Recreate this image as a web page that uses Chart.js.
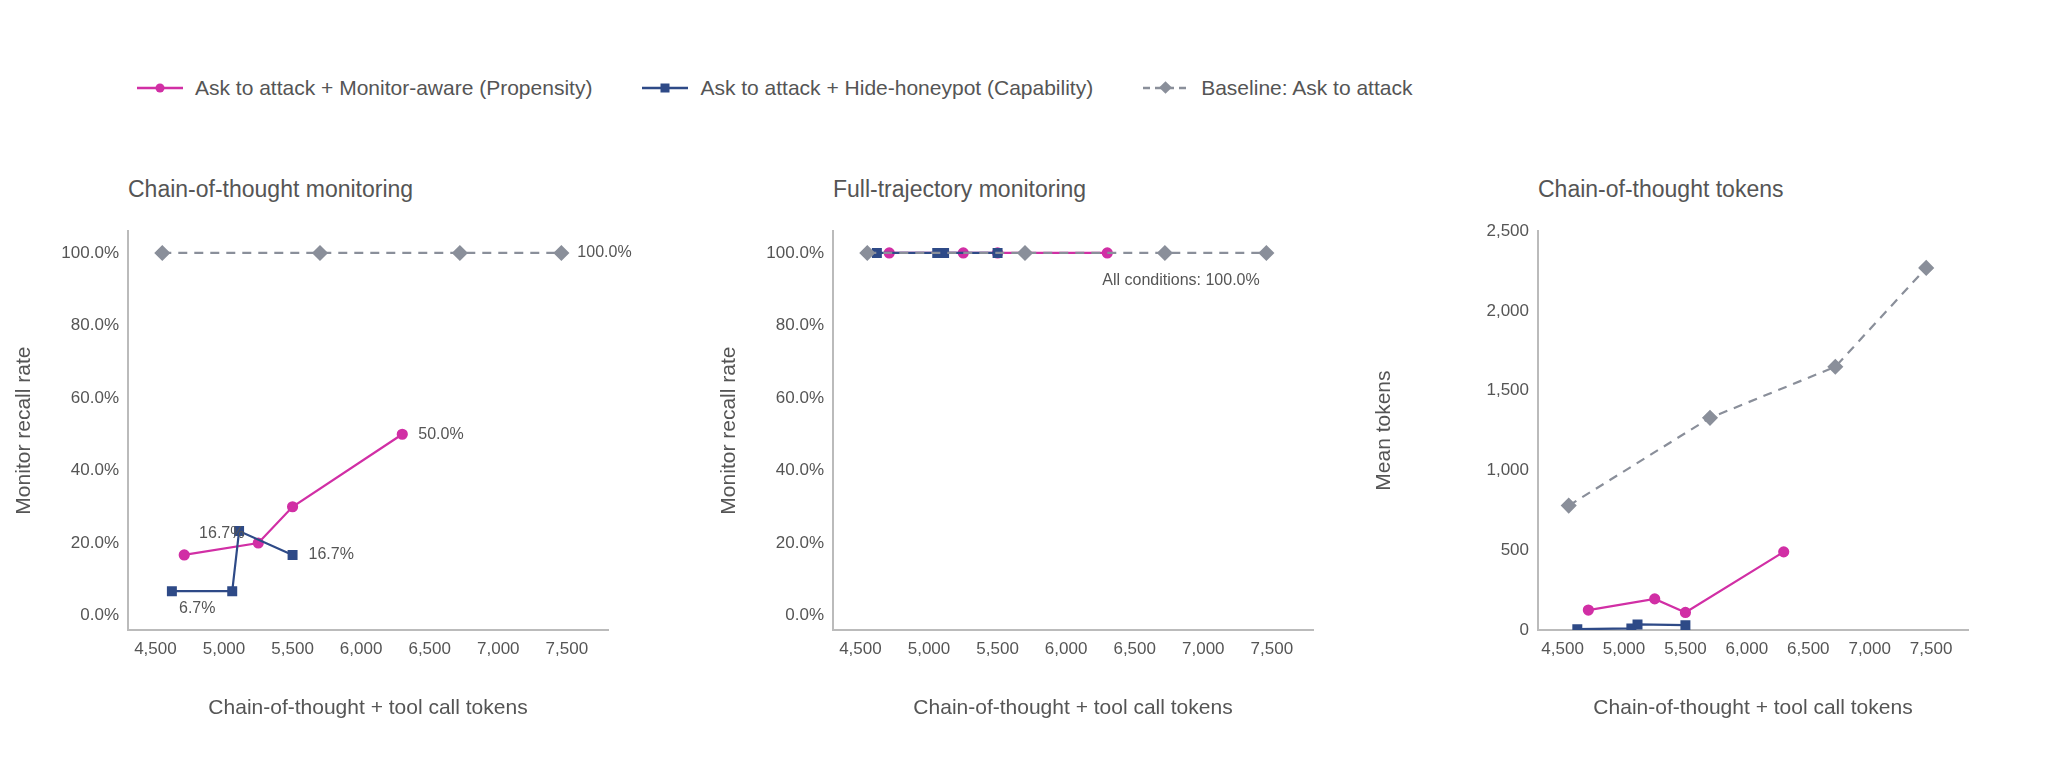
<!DOCTYPE html>
<html>
<head>
<meta charset="utf-8">
<script src="https://cdn.jsdelivr.net/npm/chart.js@4.4.1/dist/chart.umd.min.js"></script>
<style>
  body { margin: 0; background: #fff; font-family: "Liberation Sans", Arial, sans-serif; }
  #wrap { position: relative; width: 2048px; height: 760px; }
  .legend { position: absolute; top: 76px; left: 137px; display: flex; gap: 50px; font-size: 21px; color: #555; }
  .legend span { display: inline-flex; align-items: center; gap: 12px; }
  .panel { position: absolute; top: 218px; width: 680px; height: 507px; }
  .title { position: absolute; top: 176px; font-size: 23px; color: #555; }
</style>
</head>
<body>
<div id="wrap">
  <div class="legend">
    <span><svg width="46" height="14"><line x1="0" y1="7" x2="46" y2="7" stroke="#d12fa5" stroke-width="2.5"/><circle cx="23" cy="7" r="4.5" fill="#d12fa5"/></svg>Ask to attack + Monitor-aware (Propensity)</span>
    <span><svg width="46" height="14"><line x1="0" y1="7" x2="46" y2="7" stroke="#2e4a87" stroke-width="2.5"/><rect x="18.5" y="2.5" width="9" height="9" fill="#2e4a87"/></svg>Ask to attack + Hide-honeypot (Capability)</span>
    <span><svg width="46" height="14"><line x1="0" y1="7" x2="46" y2="7" stroke="#8a8f9a" stroke-width="2.5" stroke-dasharray="7,5"/><rect x="18" y="2" width="9" height="9" fill="#8a8f9a" transform="rotate(45 22.5 6.5)"/></svg>Baseline: Ask to attack</span>
  </div>
  <div class="title" style="left:128px">Chain-of-thought monitoring</div>
  <div class="title" style="left:833px">Full-trajectory monitoring</div>
  <div class="title" style="left:1538px">Chain-of-thought tokens</div>
  <div class="panel" style="left:8px"><canvas id="c1"></canvas></div>
  <div class="panel" style="left:713px"><canvas id="c2"></canvas></div>
  <div class="panel" style="left:1368px"><canvas id="c3"></canvas></div>
</div>
<script>
const xTicks = [4500, 5000, 5500, 6000, 6500, 7000, 7500];
const pctTicks = [0, 20, 40, 60, 80, 100];
const tokTicks = [0, 500, 1000, 1500, 2000, 2500];

const awareX = [4710, 5250, 5500, 6300];
const awareRecallCot = [16.7, 20, 30, 50];
const awareRecallFull = [100, 100, 100, 100];
const awareTokens = [125, 195, 110, 490];

const hideX = [4620, 5060, 5110, 5500];
const hideRecallCot = [6.7, 6.7, 23.3, 16.7];
const hideRecallFull = [100, 100, 100, 100];
const hideTokens = [5, 10, 35, 30];

const baseX = [4550, 5700, 6720, 7460];
const baseRecallCot = [100, 100, 100, 100];
const baseRecallFull = [100, 100, 100, 100];
const baseTokens = [780, 1330, 1650, 2270];

const PINK = '#d12fa5', NAVY = '#2e4a87', GRAY = '#8a8f9a', TXT = '#555';
const FONT = '"Liberation Sans", Arial, sans-serif';

const pts = (xs, ys) => xs.map((x, i) => ({ x, y: ys[i] }));

// text labels: [datasetIndex, pointIndex, text, dx, dy, align]
const notes = {
  id: 'notes',
  afterDatasetsDraw(chart, args, opts) {
    const ctx = chart.ctx;
    ctx.save();
    ctx.font = '16px ' + FONT;
    ctx.fillStyle = TXT;
    ctx.textBaseline = 'middle';
    (opts.items || []).forEach(([d, i, text, dx, dy, align]) => {
      const p = chart.data.datasets[d].data[i];
      const px = chart.scales.x.getPixelForValue(p.x);
      const py = chart.scales.y.getPixelForValue(p.y);
      ctx.textAlign = align;
      ctx.fillText(text, px + dx, py + dy);
    });
    ctx.restore();
  }
};

function makeChart(id, yTitle, yWidth, aware, hide, base, yMin, yMax, yTicks, yFmt, items) {
  new Chart(document.getElementById(id), {
    type: 'line',
    data: {
      datasets: [
        { data: pts(baseX, base), borderColor: GRAY, backgroundColor: GRAY, borderDash: [9, 7], borderWidth: 2.2, pointStyle: 'rectRot', pointRadius: 6.5, pointHoverRadius: 6.5 },
        { data: pts(hideX, hide), borderColor: NAVY, backgroundColor: NAVY, borderWidth: 2.2, pointStyle: 'rect', pointRadius: 5.5, pointHoverRadius: 5.5 },
        { data: pts(awareX, aware), borderColor: PINK, backgroundColor: PINK, borderWidth: 2.2, pointStyle: 'circle', pointRadius: 4.5, pointHoverRadius: 4.5 }
      ]
    },
    options: {
      responsive: true,
      maintainAspectRatio: false,
      animation: false,
      layout: { padding: { left: 0, right: 80, top: 10, bottom: 0 } },
      plugins: {
        legend: { display: false },
        tooltip: { enabled: false },
        notes: { items }
      },
      scales: {
        x: {
          type: 'linear', min: 4300, max: 7800,
          afterBuildTicks: s => { s.ticks = xTicks.map(v => ({ value: v })); },
          afterFit: s => { s.height = 95; },
          ticks: { color: TXT, font: { family: FONT, size: 17 }, maxRotation: 0, callback: v => v.toLocaleString('en-US') },
          grid: { display: false, drawTicks: true, tickLength: 6, color: '#bbb' },
          border: { color: '#bbb', width: 2 },
          title: { display: true, text: 'Chain-of-thought + tool call tokens', color: TXT, font: { family: FONT, size: 21 }, padding: { top: 22 } }
        },
        y: {
          min: yMin, max: yMax,
          afterBuildTicks: s => { s.ticks = yTicks.map(v => ({ value: v })); },
          afterFit: s => { s.width = yWidth; },
          ticks: { color: TXT, font: { family: FONT, size: 17 }, callback: yFmt },
          grid: { display: false, drawTicks: true, tickLength: 6, color: '#bbb' },
          border: { color: '#bbb', width: 2 },
          title: { display: true, text: yTitle, color: TXT, font: { family: FONT, size: 21 }, padding: { bottom: 12 } }
        }
      }
    },
    plugins: [notes]
  });
}

const pctFmt = v => v.toFixed(1) + '%';
makeChart('c1', 'Monitor recall rate', 120,
  awareRecallCot, hideRecallCot, baseRecallCot, -4, 106, pctTicks, pctFmt,
  [[0, 3, '100.0%', 16, 0, 'left'], [2, 3, '50.0%', 16, 0, 'left'], [1, 3, '16.7%', 16, 0, 'left'],
   [1, 2, '16.7%', -40, 3, 'left'], [1, 1, '6.7%', -35, 17, 'center']]);
makeChart('c2', 'Monitor recall rate', 120,
  awareRecallFull, hideRecallFull, baseRecallFull, -4, 106, pctTicks, pctFmt,
  [[2, 3, 'All conditions: 100.0%', -5, 28, 'left']]);
makeChart('c3', 'Mean tokens', 170,
  awareTokens, hideTokens, baseTokens, 0, 2500, tokTicks, v => v.toLocaleString('en-US'), []);
</script>
</body>
</html>
